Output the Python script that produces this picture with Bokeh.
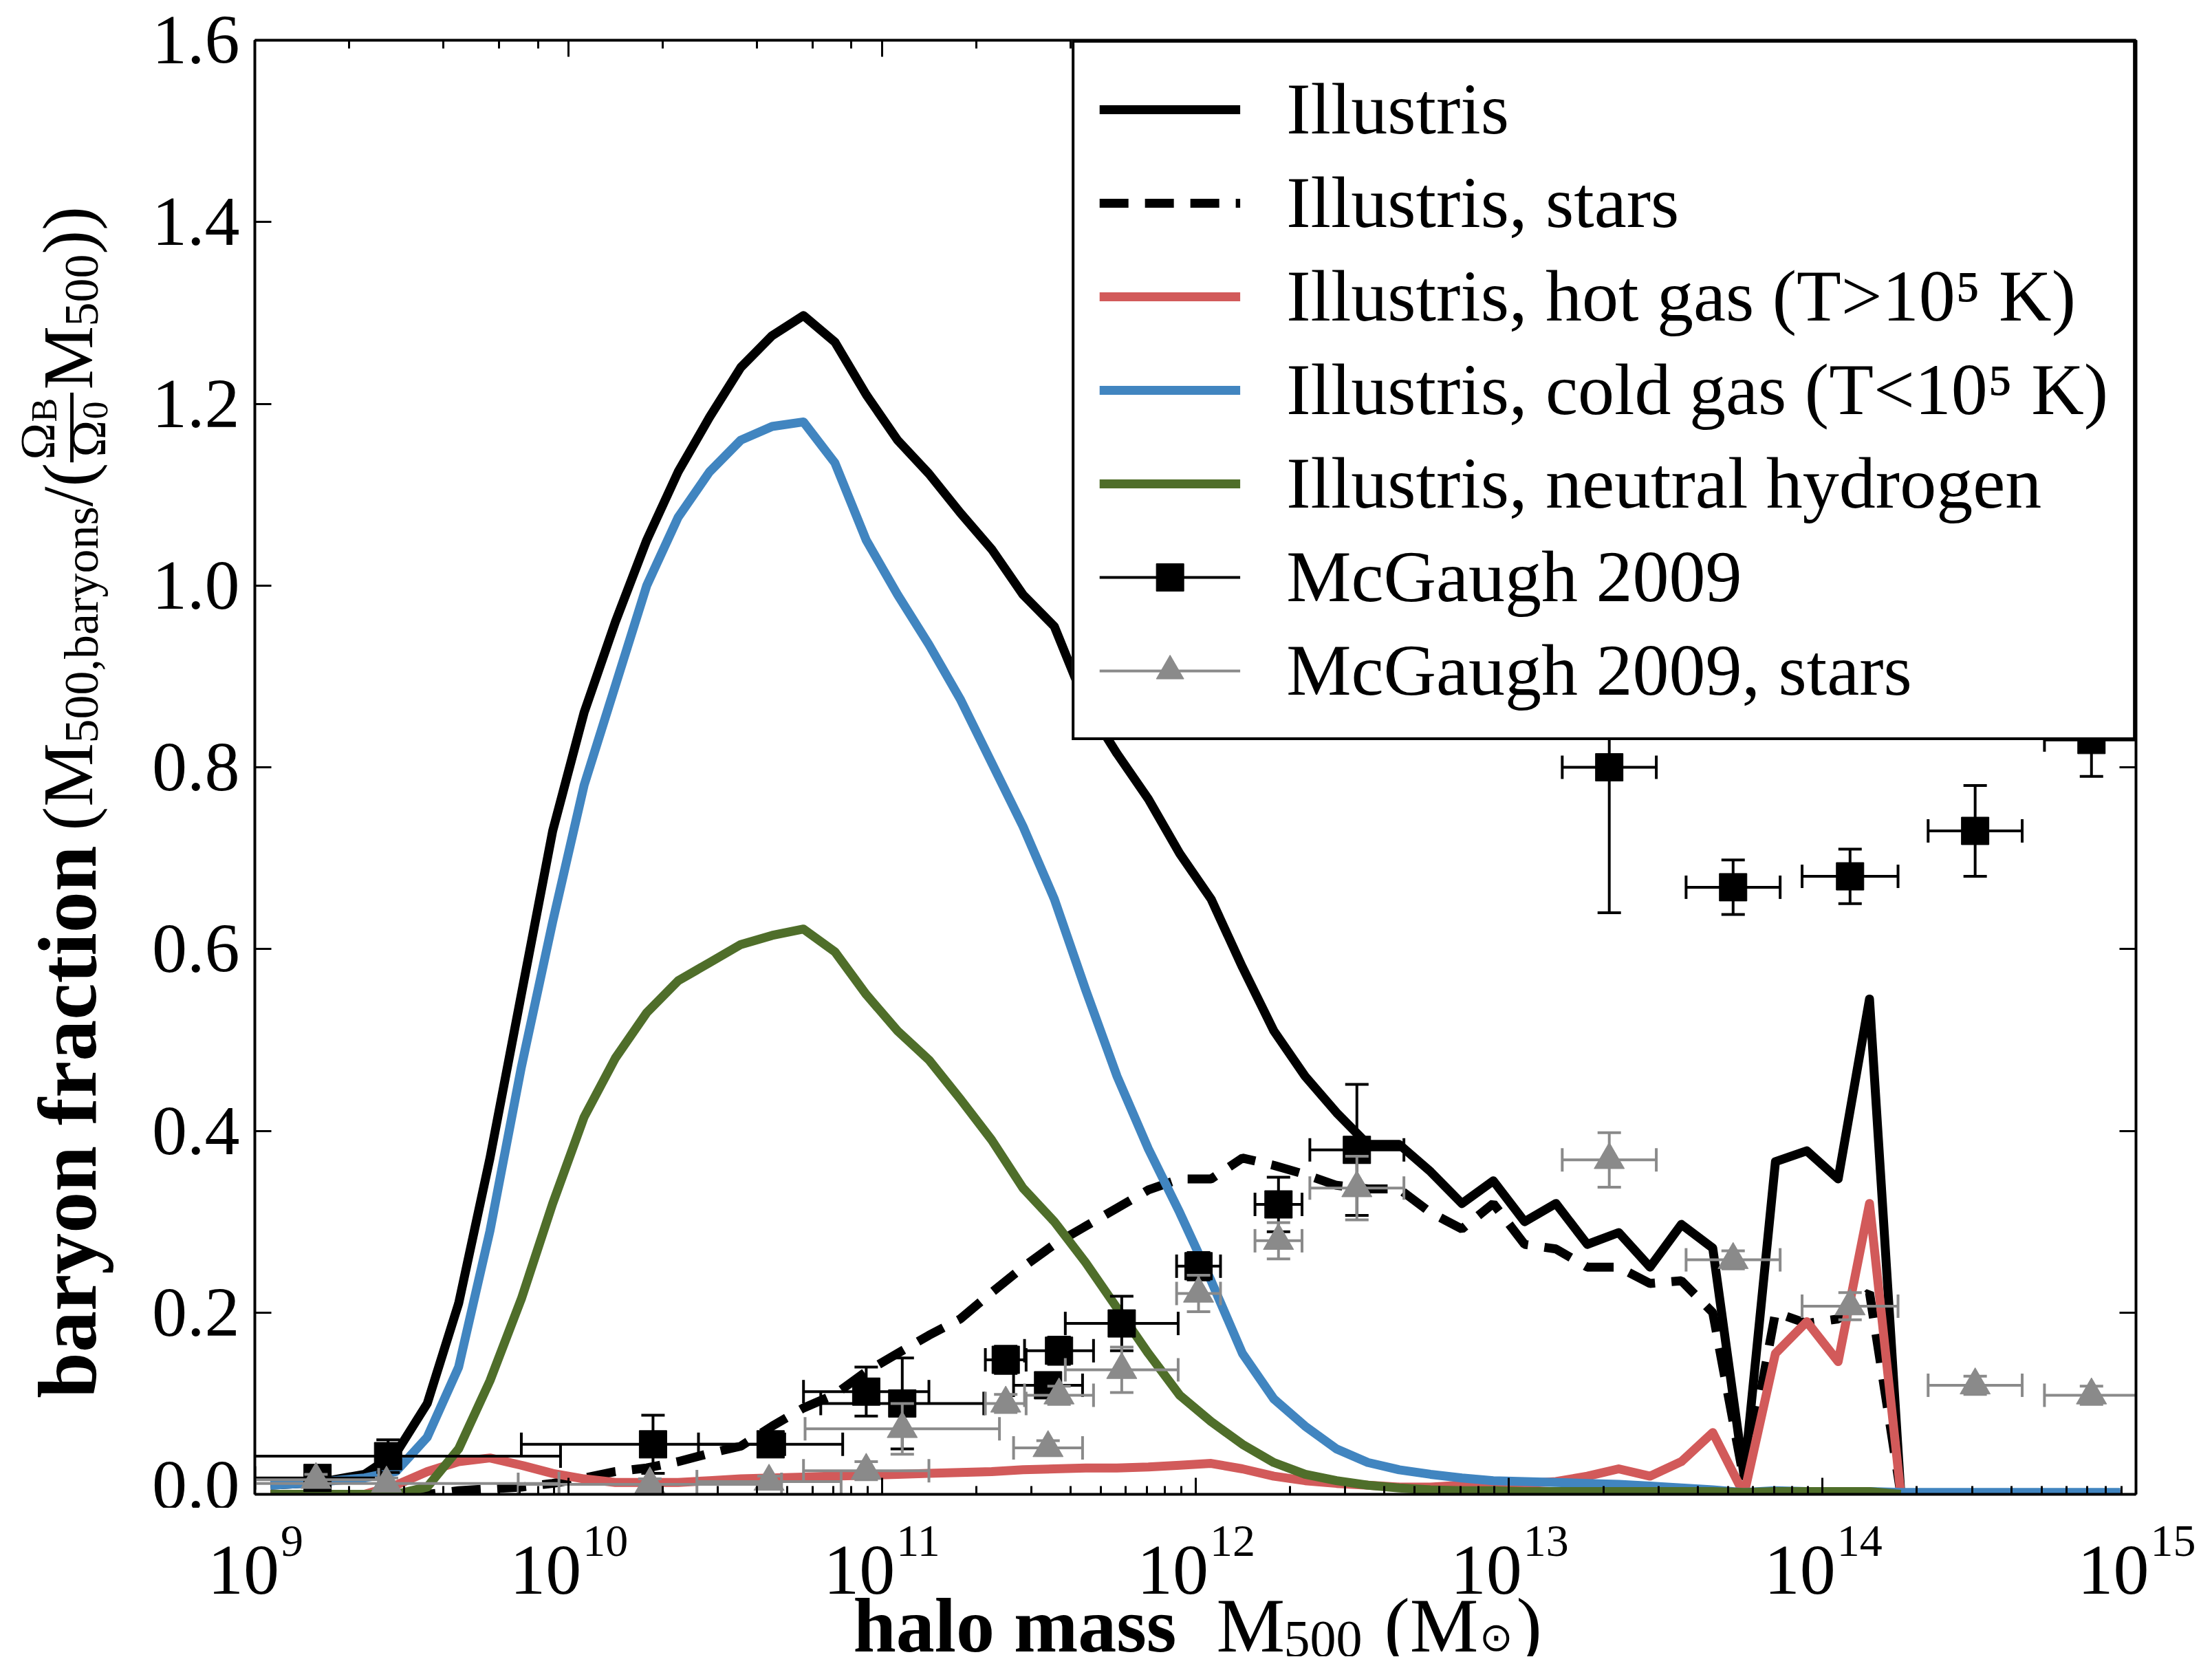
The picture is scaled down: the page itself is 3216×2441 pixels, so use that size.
from math import pi
from bokeh.plotting import figure
from bokeh.layouts import row, column
from bokeh.models import (ColumnDataSource, FixedTicker, PrintfTickFormatter, LogAxis,
                          LinearAxis, LogTicker, Legend, LegendItem, Label,
                          CustomJSTickFormatter)
from bokeh.embed import file_html
from bokeh.resources import INLINE

NAN = float("nan")

# ---------------- data ----------------
log_m500 = [9.05, 9.15, 9.25, 9.35, 9.45, 9.55, 9.65, 9.75, 9.85, 9.95,
            10.05, 10.15, 10.25, 10.35, 10.45, 10.55, 10.65, 10.75, 10.85, 10.95,
            11.05, 11.15, 11.25, 11.35, 11.45, 11.55, 11.65, 11.75, 11.85, 11.95,
            12.05, 12.15, 12.25, 12.35, 12.45, 12.55, 12.65, 12.75, 12.85, 12.95,
            13.05, 13.15, 13.25, 13.35, 13.45, 13.55, 13.65, 13.75, 13.85, 13.95,
            14.05, 14.15, 14.25, 14.35, 14.45, 14.55, 14.65, 14.75, 14.85, 14.95]

f_total = [0.010, 0.012, 0.016, 0.022, 0.045, 0.100, 0.210, 0.370, 0.550, 0.730,
           0.860, 0.960, 1.050, 1.125, 1.185, 1.240, 1.275, 1.297, 1.268, 1.210,
           1.160, 1.123, 1.080, 1.040, 0.990, 0.955, 0.870, 0.815, 0.765, 0.705,
           0.655, 0.580, 0.510, 0.460, 0.420, 0.385, 0.385, 0.355, 0.320, 0.345,
           0.300, 0.320, 0.275, 0.288, 0.250, 0.297, 0.271, 0.020, 0.366, 0.378,
           0.347, 0.545, 0.000, 0.000, 0.000, 0.000, 0.000, 0.000, 0.000, 0.000]

f_stars = [0.000, 0.000, 0.000, 0.000, 0.000, 0.000, 0.004, 0.006, 0.008, 0.012,
           0.018, 0.025, 0.029, 0.036, 0.045, 0.053, 0.075, 0.095, 0.110, 0.135,
           0.155, 0.175, 0.193, 0.222, 0.250, 0.275, 0.295, 0.315, 0.335, 0.347,
           0.347, 0.370, 0.362, 0.352, 0.340, 0.336, 0.336, 0.310, 0.292, 0.320,
           0.275, 0.270, 0.250, 0.250, 0.232, 0.235, 0.200, 0.015, 0.200, 0.188,
           0.193, 0.222, 0.000, 0.000, 0.000, 0.000, 0.000, 0.000, 0.000, 0.000]

f_hot = [0.000, 0.000, 0.000, 0.000, 0.010, 0.025, 0.036, 0.040, 0.032, 0.023,
         0.017, 0.013, 0.013, 0.013, 0.015, 0.017, 0.018, 0.019, 0.020, 0.021,
         0.022, 0.023, 0.024, 0.025, 0.027, 0.028, 0.029, 0.029, 0.030, 0.032,
         0.034, 0.028, 0.020, 0.015, 0.012, 0.010, 0.008, 0.008, 0.010, 0.012,
         0.012, 0.014, 0.020, 0.028, 0.020, 0.036, 0.068, 0.000, 0.155, 0.190,
         0.146, 0.320, 0.000, 0.000, 0.000, 0.000, 0.000, 0.000, 0.000, 0.000]

f_cold = [0.010, 0.012, 0.015, 0.018, 0.025, 0.063, 0.140, 0.290, 0.470, 0.630,
          0.780, 0.890, 1.000, 1.075, 1.125, 1.160, 1.175, 1.180, 1.135, 1.050,
          0.990, 0.935, 0.875, 0.805, 0.735, 0.655, 0.555, 0.460, 0.380, 0.310,
          0.235, 0.155, 0.105, 0.075, 0.050, 0.035, 0.027, 0.022, 0.018, 0.015,
          0.014, 0.013, 0.012, 0.011, 0.009, 0.007, 0.005, 0.002, 0.004, 0.003,
          0.003, 0.003, 0.002, 0.002, 0.002, 0.002, 0.002, 0.002, 0.002, 0.002]

f_hi = [0.000, 0.000, 0.000, 0.000, 0.000, 0.008, 0.050, 0.125, 0.215, 0.320,
        0.415, 0.480, 0.530, 0.565, 0.585, 0.605, 0.615, 0.622, 0.597, 0.550,
        0.510, 0.478, 0.435, 0.390, 0.337, 0.300, 0.255, 0.205, 0.155, 0.109,
        0.080, 0.055, 0.035, 0.022, 0.015, 0.010, 0.007, 0.005, 0.004, 0.004,
        0.003, 0.003, 0.003, 0.003, 0.003, 0.003, 0.003, 0.002, 0.003, 0.003,
        0.003, 0.003, 0.000, NAN, NAN, NAN, NAN, NAN, NAN, NAN]

# McGaugh 2009 (baryons): log10 M500, fraction, x error (dex), y error
mcg_logm = [9.20, 9.425, 10.27, 10.645, 10.95, 11.065, 11.395, 11.53, 11.565,
            11.765, 12.01, 12.265, 12.515, 13.32, 13.715, 14.088, 14.487, 14.858]
mcg_frac = [0.018, 0.042, 0.055, 0.055, 0.113, 0.100, 0.148, 0.120, 0.158,
            0.188, 0.251, 0.319, 0.379, 0.800, 0.668, 0.680, 0.730, 0.830]
mcg_xerr = [0.20, 0.55, 0.42, 0.23, 0.20, 0.26, 0.065, 0.11, 0.11,
            0.18, 0.07, 0.075, 0.15, 0.15, 0.15, 0.153, 0.15, 0.15]
mcg_yerr = [0.008, 0.018, 0.032, 0.010, 0.027, 0.050, 0.015, 0.012, 0.015,
            0.030, 0.015, 0.030, 0.072, 0.160, 0.030, 0.030, 0.050, 0.040]

# McGaugh 2009 (stars)
mcgs_logm = [9.195, 9.42, 10.26, 10.64, 10.95, 11.065, 11.395, 11.53, 11.565,
             11.765, 12.01, 12.265, 12.515, 13.32, 13.715, 14.088, 14.487, 14.858]
mcgs_frac = [0.016, 0.012, 0.011, 0.014, 0.026, 0.072, 0.100, 0.051, 0.109,
             0.137, 0.221, 0.279, 0.337, 0.368, 0.258, 0.207, 0.120, 0.109]
mcgs_xerr = [0.20, 0.55, 0.42, 0.23, 0.20, 0.31, 0.065, 0.11, 0.11,
             0.18, 0.07, 0.075, 0.15, 0.15, 0.15, 0.153, 0.15, 0.15]
mcgs_yerr = [0.006, 0.006, 0.006, 0.006, 0.010, 0.028, 0.010, 0.008, 0.010,
             0.025, 0.020, 0.020, 0.035, 0.030, 0.010, 0.015, 0.010, 0.010]

y_ticks = [0.0, 0.2, 0.4, 0.6, 0.8, 1.0, 1.2, 1.4, 1.6]
x_tick_exponents = [9, 10, 11, 12, 13, 14, 15]

legend_labels = ["Illustris", "Illustris, stars", "Illustris, hot gas (T>10\u2075 K)",
                 "Illustris, cold gas (T<10\u2075 K)", "Illustris, neutral hydrogen",
                 "McGaugh 2009", "McGaugh 2009, stars"]

# ---------------- style / geometry ----------------
FONT = "Liberation Serif"
C_RED = "#d25a5a"
C_BLUE = "#4185c0"
C_GREEN = "#4f6e2a"
C_GREY = "#8a8a8a"
LW = 13

YLAB_W = 200          # side panel holding the y label
MAIN_BL = 170         # main figure left border (y tick labels)
MAIN_BB = 20          # main figure bottom border (x tick labels drawn in panel below)
MAIN_BT = 58
MAIN_BR = 91
FRAME_W, FRAME_H = 2735, 2114
MAIN_H = MAIN_BT + FRAME_H + MAIN_BB
TOTAL_W = YLAB_W + MAIN_BL + FRAME_W + MAIN_BR      # 3196
XLAB_H = 2408 - MAIN_H                               # bottom panel (slack kept)
DEC = FRAME_W / 6.0   # pixels per decade
FRAME_X0 = YLAB_W + MAIN_BL                          # x of 10^9 inside the bottom panel

p = figure(x_axis_type="log", x_range=(1e9, 1e15), y_range=(0, 1.6),
           frame_width=FRAME_W, frame_height=FRAME_H,
           min_border_left=MAIN_BL, min_border_right=MAIN_BR, min_border_top=MAIN_BT,
           min_border_bottom=MAIN_BB, output_backend="svg", toolbar_location=None,
           background_fill_color="white", border_fill_color="white")
p.grid.visible = False
p.outline_line_color = None

mass = [10.0 ** v for v in log_m500]
src = ColumnDataSource(dict(m=mass, tot=f_total, st=f_stars, hot=f_hot, cold=f_cold, hi=f_hi))

r_tot = p.line("m", "tot", source=src, line_color="black", line_width=LW, line_join="round")
r_st = p.line("m", "st", source=src, line_color="black", line_width=LW, line_dash="42 24")
r_hot = p.line("m", "hot", source=src, line_color=C_RED, line_width=LW, line_join="round")
r_cold = p.line("m", "cold", source=src, line_color=C_BLUE, line_width=LW, line_join="round")
r_hi = p.line("m", "hi", source=src, line_color=C_GREEN, line_width=LW, line_join="round")


def err_source(logm, frac, xerr, yerr):
    return ColumnDataSource(dict(
        x=[10.0 ** v for v in logm],
        y=frac,
        xlo=[10.0 ** (v - d) for v, d in zip(logm, xerr)],
        xhi=[10.0 ** (v + d) for v, d in zip(logm, xerr)],
        ylo=[f - e for f, e in zip(frac, yerr)],
        yhi=[f + e for f, e in zip(frac, yerr)],
    ))


def draw_points(s, color, marker, size):
    ew = 4
    cap = 34
    rx = p.segment(x0="xlo", y0="y", x1="xhi", y1="y", source=s, line_color=color, line_width=ew)
    p.segment(x0="x", y0="ylo", x1="x", y1="yhi", source=s, line_color=color, line_width=ew)
    for c in ("xlo", "xhi"):
        p.scatter(x=c, y="y", source=s, marker="dash", angle=pi / 2, size=cap,
                  line_color=color, line_width=ew)
    for c in ("ylo", "yhi"):
        p.scatter(x="x", y=c, source=s, marker="dash", size=cap,
                  line_color=color, line_width=ew)
    rm = p.scatter(x="x", y="y", source=s, marker=marker, size=size,
                   fill_color=color, line_color=color)
    return rx, rm


src_b = err_source(mcg_logm, mcg_frac, mcg_xerr, mcg_yerr)
src_s = err_source(mcgs_logm, mcgs_frac, mcgs_xerr, mcgs_yerr)
rbx, rbm = draw_points(src_b, "black", "square", 40)
rsx, rsm = draw_points(src_s, C_GREY, "triangle", 44)

# ---------------- axes ----------------
xa = p.xaxis[0]
ya = p.yaxis[0]
ya.ticker = FixedTicker(ticks=y_ticks)
ya.formatter = PrintfTickFormatter(format="%.1f")
xa.formatter = CustomJSTickFormatter(code="return ''")

top = LogAxis(ticker=LogTicker(), formatter=CustomJSTickFormatter(code="return ''"))
right = LinearAxis(ticker=FixedTicker(ticks=y_ticks), formatter=CustomJSTickFormatter(code="return ''"))
p.add_layout(top, "above")
p.add_layout(right, "right")

for ax in (xa, ya, top, right):
    ax.axis_line_width = 4
    ax.axis_line_color = "black"
    ax.major_tick_in = 24
    ax.major_tick_out = 0
    ax.minor_tick_in = 12
    ax.minor_tick_out = 0
    ax.major_tick_line_width = 3
    ax.minor_tick_line_width = 3
    ax.major_label_text_font = FONT
    ax.major_label_text_font_size = "102px"
    ax.major_label_text_color = "black"
    ax.axis_label = None
for ax in (ya, right):
    ax.minor_tick_line_color = None
for ax in (xa, top, right):
    ax.major_label_text_font_size = "1px"
    ax.major_label_standoff = 0
ya.major_label_standoff = 22

# ---------------- legend ----------------
items = [LegendItem(label=legend_labels[0], renderers=[r_tot]),
         LegendItem(label=legend_labels[1], renderers=[r_st]),
         LegendItem(label=legend_labels[2], renderers=[r_hot]),
         LegendItem(label=legend_labels[3], renderers=[r_cold]),
         LegendItem(label=legend_labels[4], renderers=[r_hi]),
         LegendItem(label=legend_labels[5], renderers=[rbx, rbm]),
         LegendItem(label=legend_labels[6], renderers=[rsx, rsm])]
legend = Legend(items=items, location="top_right", margin=0, padding=36, spacing=14,
                glyph_width=205, glyph_height=100, label_standoff=67,
                label_text_font=FONT, label_text_font_size="106px",
                label_text_color="black", border_line_color="black",
                border_line_width=4, border_line_alpha=1.0,
                background_fill_color="white", background_fill_alpha=1.0)
p.add_layout(legend)


# ---------------- side panels for rich-text labels ----------------
def panel(w, h):
    f = figure(width=w, height=h, x_range=(0, w), y_range=(0, h), min_border=0,
               output_backend="svg", toolbar_location=None,
               x_axis_location=None, y_axis_location=None,
               background_fill_color="white", border_fill_color="white")
    f.grid.visible = False
    f.outline_line_color = None
    return f


def lab(f, txt, x, y, size, bold=False, angle=0.0, align="left", xoff=0):
    f.add_layout(Label(text=txt, x=x, y=y, x_units="screen", y_units="screen", x_offset=xoff,
                       text_font=FONT, text_font_size=f"{size}px",
                       text_font_style="bold" if bold else "normal",
                       text_color="black", text_align=align,
                       text_baseline="alphabetic", angle=angle))


# y label: baryon fraction (M_500,baryons / (Omega_B/Omega_0 M_500))
py = panel(YLAB_W, MAIN_H)
A = pi / 2
bx = 98                  # baseline inside panel
y0 = MAIN_BB             # panel y of the plot frame bottom
NS, SS = 104, 70         # normal and subscript sizes
lab(py, "baryon fraction", bx, y0 + 923, 120, bold=True, angle=A, align="right")
lab(py, "(M", bx, y0 + 945, NS, angle=A)
lab(py, "500,baryons", bx + 20, y0 + 1072, SS, angle=A)
lab(py, "/(", bx, y0 + 1416, NS, angle=A)
lab(py, "\u03a9", bx - 44, y0 + 1484, 72, angle=A)
lab(py, "B", bx - 34, y0 + 1539, 52, angle=A)
lab(py, "\u2014", bx - 4, y0 + 1481, 100, angle=A)
lab(py, "\u03a9", bx + 30, y0 + 1488, 72, angle=A)
lab(py, "0", bx + 40, y0 + 1543, 52, angle=A)
lab(py, "M", bx, y0 + 1586, NS, angle=A)
lab(py, "500", bx + 20, y0 + 1678, SS, angle=A)
lab(py, "))", bx, y0 + 1783, NS, angle=A)

# bottom panel: x tick labels ("10" with superscript exponent) and the x label
pb = panel(TOTAL_W, XLAB_H)
BASE_FS, EXP_FS = 104, 66
for e in x_tick_exponents:
    exp_txt = str(e)
    tick_x = FRAME_X0 + (e - x_tick_exponents[0]) * DEC
    shift = (BASE_FS * 1.0 - EXP_FS * 0.5 * len(exp_txt)) / 2
    lab(pb, "10", tick_x, XLAB_H - 90, BASE_FS, align="right", xoff=shift)
    lab(pb, exp_txt, tick_x, XLAB_H - 48, EXP_FS, align="left", xoff=shift + 2)

xb = 46
lab(pb, "halo mass", 1240, xb, 112, bold=True)
lab(pb, "M", 1768, xb, 112)
lab(pb, "500", 1866, xb - 20, 76)
lab(pb, "(M", 2012, xb, 112)
lab(pb, "\u2299", 2150, xb - 18, 58)
lab(pb, ")", 2204, xb, 112)

layout = column(row(py, p, spacing=0), pb, spacing=0)
open("out.html", "w").write(file_html(layout, INLINE))
